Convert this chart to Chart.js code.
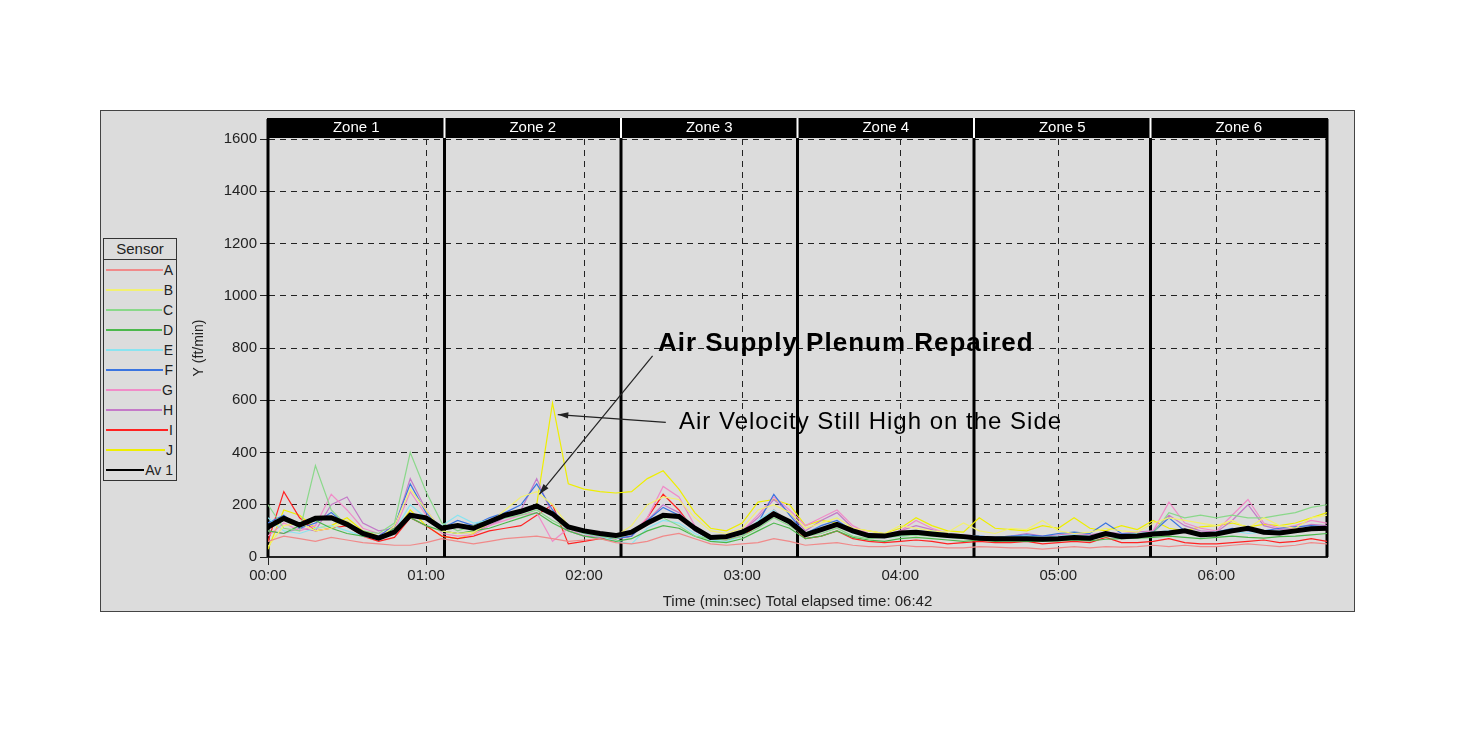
<!DOCTYPE html>
<html>
<head>
<meta charset="utf-8">
<script src="https://cdn.jsdelivr.net/npm/chart.js@4.4.1/dist/chart.umd.min.js"></script>
<style>
  body { margin:0; background:#fff; font-family:"Liberation Sans", Arial, sans-serif; }
  #box { position:absolute; left:100px; top:110px; width:1253px; height:500px; background:#dcdcdc; border:1px solid #444; }
  #legend { position:absolute; left:2px; top:127px; width:72px; border:1px solid #333; background:#dcdcdc; font-size:14px; color:#222; }
  #legend .hd { border-bottom:1px solid #333; text-align:center; height:20px; line-height:20px; font-size:15px; }
  #legend .row { display:flex; align-items:center; height:20px; white-space:nowrap; }
  #legend .ln { flex:1; margin-left:2px; }
  #legend .lb { text-align:right; padding:0 3px 0 1px; }
</style>
</head>
<body>
<div id="box">
  <canvas id="c" width="1253" height="500"></canvas>
  <div id="legend"></div>
</div>
<script>
// time in seconds, sampled every 6 s up to 06:42
const times = [0,6,12,18,24,30,36,42,48,54,60,66,72,78,84,90,96,102,108,114,120,126,132,138,144,150,156,162,168,174,180,186,192,198,204,210,216,222,228,234,240,246,252,258,264,270,276,282,288,294,300,306,312,318,324,330,336,342,348,354,360,366,372,378,384,390,396,402];
const sensorA = [60,80,70,60,75,65,55,50,45,45,55,70,60,50,60,70,75,80,70,60,65,70,55,50,60,80,90,70,50,45,50,55,70,60,45,50,55,45,40,40,45,40,40,35,35,40,38,35,35,30,35,40,35,40,38,40,45,40,45,40,40,45,50,45,40,45,55,50];
const sensorB = [40,120,130,100,110,140,90,70,120,260,180,100,90,95,130,180,230,250,200,120,100,90,80,120,200,230,220,150,100,90,110,180,200,170,110,130,150,110,100,90,120,110,100,95,130,100,90,110,105,140,100,90,95,110,100,95,130,150,140,130,120,140,110,150,120,110,150,160];
const sensorC = [200,110,100,350,180,120,100,90,130,400,250,130,100,120,140,150,160,180,140,110,90,80,70,90,130,150,120,80,70,65,80,110,150,120,80,90,110,80,70,75,80,85,80,75,70,75,70,72,70,70,72,75,70,78,80,85,90,170,150,160,150,160,150,150,160,170,190,200];
const sensorD = [100,90,120,140,110,90,80,75,110,150,120,100,90,100,110,130,150,170,130,100,80,70,60,70,100,120,110,80,60,55,70,100,130,110,70,80,100,75,65,60,70,75,70,65,60,65,60,62,60,60,62,65,62,68,70,72,75,80,75,70,75,80,75,72,78,80,85,90];
const sensorE = [150,100,90,110,120,100,80,70,100,200,150,120,160,130,140,150,170,200,160,110,90,80,60,50,110,140,130,90,65,60,80,140,180,130,80,100,130,90,80,75,80,85,100,90,80,80,75,78,80,75,80,85,80,90,85,90,95,100,95,90,95,100,90,95,100,100,105,110];
const sensorF = [130,160,110,130,170,120,90,80,120,280,170,110,140,120,150,170,200,280,180,110,90,80,70,80,140,190,160,100,70,70,90,130,240,160,90,120,140,100,85,80,90,100,95,85,80,80,75,80,85,80,90,95,90,130,90,88,95,150,100,90,95,110,100,100,110,115,120,115];
const sensorG = [80,130,100,120,240,180,110,90,100,250,160,90,80,85,120,140,160,170,60,110,80,90,75,90,150,270,230,120,80,75,100,160,230,180,120,150,180,120,90,80,100,140,110,90,80,70,65,70,80,60,80,90,80,85,80,90,100,210,130,110,100,160,220,130,110,120,140,130];
const sensorH = [100,90,110,100,200,230,130,100,110,300,180,100,90,95,120,150,180,300,160,100,80,75,70,80,140,200,170,110,80,75,100,150,220,170,100,140,170,110,90,85,100,120,105,90,85,80,75,80,90,80,85,90,85,95,90,95,100,160,120,100,95,140,200,120,105,110,125,120];
const sensorI = [60,250,150,100,110,120,80,60,75,150,120,80,70,80,100,110,120,160,200,50,60,70,70,80,150,240,180,100,70,65,80,120,180,130,70,80,100,70,60,55,60,65,60,50,55,60,55,55,60,50,55,60,55,75,55,55,60,70,55,50,50,55,60,65,55,60,70,60];
const sensorJ = [30,180,160,110,120,150,100,80,90,180,120,80,70,90,130,160,180,200,590,280,260,250,245,250,300,330,260,170,110,100,130,210,220,200,120,140,130,110,100,90,110,150,120,100,95,150,110,105,100,120,110,150,110,100,120,105,140,110,100,115,120,130,115,125,120,130,150,170];
const average = [115,148,122,148,150,125,90,72,95,160,150,110,120,110,135,160,175,195,165,115,100,90,82,95,130,160,155,110,75,78,95,125,165,135,85,105,125,100,82,80,92,95,88,82,78,72,70,70,70,68,70,75,72,90,78,80,88,92,100,85,88,100,110,95,92,100,108,110];

const labels = ['A','B','C','D','E','F','G','H','I','J','Av 1'];
const colors = ['#f08a8a','#f2f070','#8ad88a','#4cb84c','#8ae4f0','#3a74e0','#f08cc8','#c47ac8','#ff2222','#eeee00','#000000'];
const series = [sensorA,sensorB,sensorC,sensorD,sensorE,sensorF,sensorG,sensorH,sensorI,sensorJ,average];

const zones = ['Zone 1','Zone 2','Zone 3','Zone 4','Zone 5','Zone 6'];
const zoneEdges = [0,67,134,201,268,335,402];

const FONT = '"Liberation Sans", Arial, sans-serif';

function mmss(v) {
  const m = Math.floor(v / 60), s = v % 60;
  return String(m).padStart(2,'0') + ':' + String(s).padStart(2,'0');
}

// legend box
const lg = document.getElementById('legend');
lg.innerHTML = '<div class="hd">Sensor</div>' + labels.map((l, i) =>
  `<div class="row"><div class="ln" style="border-top:2px solid ${colors[i]}"></div><div class="lb">${l}</div></div>`).join('');

const zonePlugin = {
  id: 'zones',
  beforeDatasetsDraw(chart) {
    const { ctx, chartArea: a, scales: { x } } = chart;
    ctx.save();
    ctx.strokeStyle = '#000';
    ctx.lineWidth = 3;
    zoneEdges.forEach(t => {
      const px = x.getPixelForValue(t);
      ctx.beginPath(); ctx.moveTo(px, a.top - 20); ctx.lineTo(px, a.bottom); ctx.stroke();
    });
    ctx.restore();
  },
  afterDraw(chart) {
    const { ctx, chartArea: a, scales: { x, y } } = chart;
    ctx.save();
    // zone header bar
    ctx.fillStyle = '#000';
    ctx.fillRect(a.left - 1, a.top - 21, a.right - a.left + 2, 20);
    ctx.fillStyle = '#fff';
    ctx.font = '15px ' + FONT;
    ctx.textAlign = 'center'; ctx.textBaseline = 'middle';
    zones.forEach((z, i) => {
      const l = x.getPixelForValue(zoneEdges[i]), r = x.getPixelForValue(zoneEdges[i + 1]);
      ctx.fillText(z, (l + r) / 2, a.top - 11);
      if (i > 0) ctx.fillRect(l - 1, a.top - 21, 2, 20);
    });

    // annotations
    const arrow = (x1, y1, x2, y2) => {
      const p1 = [x.getPixelForValue(x1), y.getPixelForValue(y1)];
      const p2 = [x.getPixelForValue(x2), y.getPixelForValue(y2)];
      ctx.strokeStyle = '#222'; ctx.fillStyle = '#222'; ctx.lineWidth = 1.2;
      ctx.beginPath(); ctx.moveTo(p1[0], p1[1]); ctx.lineTo(p2[0], p2[1]); ctx.stroke();
      const ang = Math.atan2(p2[1] - p1[1], p2[0] - p1[0]);
      ctx.beginPath();
      ctx.moveTo(p2[0], p2[1]);
      ctx.lineTo(p2[0] - 11 * Math.cos(ang - 0.3), p2[1] - 11 * Math.sin(ang - 0.3));
      ctx.lineTo(p2[0] - 11 * Math.cos(ang + 0.3), p2[1] - 11 * Math.sin(ang + 0.3));
      ctx.closePath(); ctx.fill();
    };
    arrow(146, 770, 103, 240);
    arrow(151, 515, 110, 545);
    ctx.fillStyle = '#000';
    ctx.textAlign = 'left'; ctx.textBaseline = 'middle';
    ctx.letterSpacing = '1px';
    ctx.font = 'bold 26px ' + FONT;
    ctx.fillText('Air Supply Plenum Repaired', x.getPixelForValue(148), y.getPixelForValue(815));
    ctx.font = '24px ' + FONT;
    ctx.fillText('Air Velocity Still High on the Side', x.getPixelForValue(156), y.getPixelForValue(515));
    ctx.restore();
  }
};

new Chart(document.getElementById('c'), {
  type: 'line',
  data: {
    datasets: series.map((s, i) => ({
      label: labels[i],
      data: s.map((v, k) => ({ x: times[k], y: v })),
      borderColor: colors[i],
      borderWidth: i === 10 ? 5 : 1.2,
      order: i === 10 ? 0 : 1,
      pointRadius: 0,
      tension: 0
    }))
  },
  options: {
    responsive: false,
    animation: false,
    layout: { padding: { left: 90, right: 27, top: 28, bottom: 0 } },
    plugins: { legend: { display: false }, tooltip: { enabled: false } },
    scales: {
      x: {
        type: 'linear', min: 0, max: 402,
        afterBuildTicks(s) { s.ticks = s.ticks.filter(t => t.value % 60 === 0); },
        afterFit(s) { s.height = 54; },
        ticks: { stepSize: 60, callback: v => mmss(v), color: '#222', font: { family: FONT, size: 15 }, maxRotation: 0, padding: 2 },
        grid: { color: '#222', lineWidth: 1, tickLength: 8, tickBorderDash: [], tickColor: '#222' },
        border: { display: true, color: '#222', width: 2, dash: [6, 5] },
        title: { display: true, text: 'Time (min:sec) Total elapsed time: 06:42', color: '#222', font: { family: FONT, size: 15 }, padding: { top: 0, bottom: 0 } }
      },
      y: {
        min: 0, max: 1600,
        afterFit(s) { s.width = 77; },
        ticks: { stepSize: 200, callback: v => String(v), color: '#222', font: { family: FONT, size: 15 }, padding: 3 },
        grid: { color: '#222', lineWidth: 1, tickLength: 8, tickBorderDash: [], tickColor: '#222' },
        border: { display: true, color: '#222', width: 2, dash: [6, 5] },
        title: { display: true, text: 'Y (ft/min)', color: '#222', font: { family: FONT, size: 14 }, padding: 0 }
      }
    }
  },
  plugins: [zonePlugin]
});
</script>
</body>
</html>
